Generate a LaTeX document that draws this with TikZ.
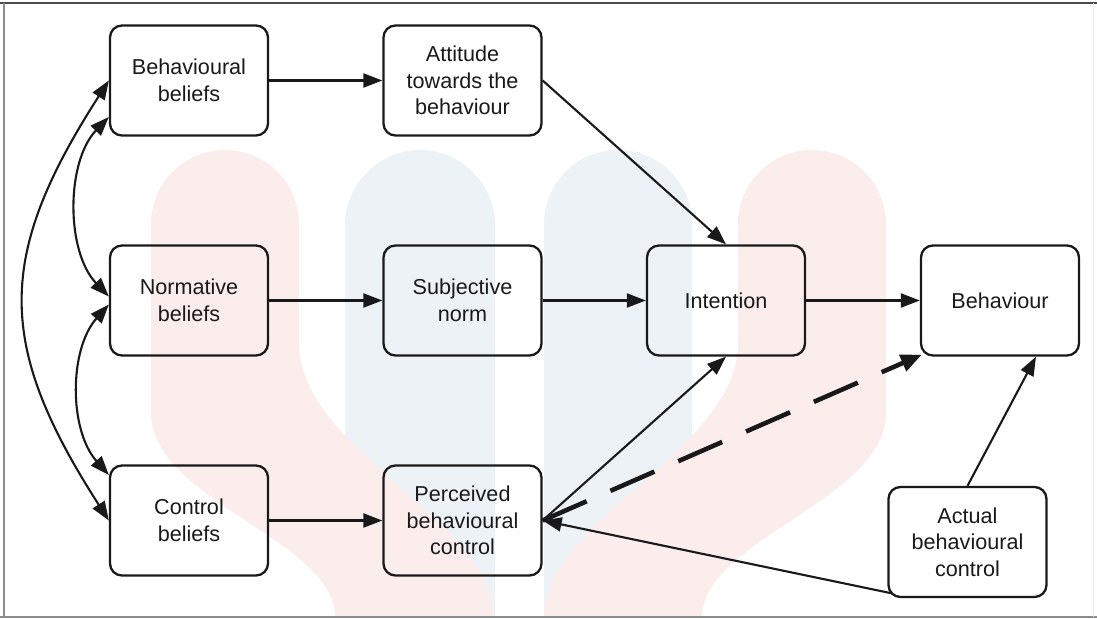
\documentclass[tikz,border=0pt]{standalone}
\usepackage{fontspec}
\setmainfont{Liberation Sans}
\usetikzlibrary{arrows.meta}
\definecolor{wpink}{RGB}{252,237,237}
\definecolor{wblue}{RGB}{237,242,247}
\definecolor{ink}{RGB}{25,25,25}
\begin{document}
\begin{tikzpicture}[x=0.5pt,y=-0.5pt,
  box/.style={draw=ink, line width=1.15pt, rounded corners=6pt, minimum width=79pt,
    minimum height=55pt, inner sep=0pt, align=center,
    font=\fontsize{10.8}{13.3}\selectfont, text=ink},
  tip/.style={-{Triangle[length=9.5pt,width=7pt]}},
  arr/.style={draw=ink, line width=1.05pt, tip},
  dbl/.style={draw=ink, line width=1.05pt, {Triangle[length=9.5pt,width=7pt]}-{Triangle[length=9.5pt,width=7pt]}},
  dashedarr/.style={draw=ink, line width=2.3pt, dash pattern=on 24pt off 13pt,
    -{Triangle[length=10.5pt,width=8.5pt]}},
  frameline/.style={line width=0.9pt}
]
\useasboundingbox (0,0) rectangle (1097,619);
% faint watermark
\fill[wblue] (345,617) -- (345,225) .. controls (345,184) and (379,150) .. (420,150)
  .. controls (461,150) and (495,184) .. (495,225) -- (495,617) -- cycle;
\fill[wblue] (544,617) -- (544,224) .. controls (544,183) and (577,150) .. (618,150)
  .. controls (659,150) and (692,183) .. (692,224) -- (692,617) -- cycle;
\fill[wpink] (151,413) -- (151,224) .. controls (151,183) and (184,150) .. (225,150)
  .. controls (266,150) and (299,183) .. (299,224) -- (299,343)
  .. controls (299,450) and (493,520) .. (493,617) -- (335,617)
  .. controls (335,540) and (151,500) .. (151,413) -- cycle;
\fill[wpink] (886,413) -- (886,224) .. controls (886,183) and (853,150) .. (812,150)
  .. controls (771,150) and (738,183) .. (738,224) -- (738,343)
  .. controls (738,450) and (544,520) .. (544,617) -- (702,617)
  .. controls (702,540) and (886,500) .. (886,413) -- cycle;
% frame
\draw[frameline, draw=black!70] (0,3) -- (1097,3);
\draw[frameline, draw=black!45] (4,3) -- (4,617);
\draw[frameline, draw=black!45] (0,617) -- (1097,617);
\draw[line width=0.5pt, draw=black!8] (1093,3) -- (1093,617);
% boxes
\node[box] (bb) at (189,80.5) {Behavioural\\beliefs};
\node[box] (att) at (462.5,80.5) {Attitude\\towards the\\behaviour};
\node[box] (nb) at (189,300.5) {Normative\\beliefs};
\node[box] (sn) at (462.5,300.5) {Subjective\\norm};
\node[box] (cb) at (189,520.5) {Control\\beliefs};
\node[box] (pbc) at (462.5,520.5) {Perceived\\behavioural\\control};
\node[box] (int) at (726,300.5) {Intention};
\node[box] (beh) at (1000,300.5) {Behaviour};
\node[box] (abc) at (967.5,542) {Actual\\behavioural\\control};
% straight connectors
\draw[arr] (bb) -- (att);
\draw[arr] (nb) -- (sn);
\draw[arr] (sn) -- (int);
\draw[arr] (int) -- (beh);
\draw[arr] (cb) -- (pbc);
\draw[arr] (att.east) -- (int.north);
\draw[arr] (pbc.east) -- (int.south);
\draw[dashedarr] (pbc.east) -- ([shift={(2,-2)}]beh.south west);
\draw[arr] (abc.north) -- ([shift={(36,0)}]beh.south);
\draw[arr] ([shift={(3.5,-5)}]abc.south west) -- (pbc.east);
% curved double-headed connectors
\draw[dbl] (bb.west) .. controls +(-113,176) and +(-113,-176) .. (cb.west);
\draw[dbl] ([shift={(0,36.5)}]bb.west) .. controls +(-43,45) and +(-43,-45) .. ([shift={(0,-4)}]nb.west);
\draw[dbl] ([shift={(0,4)}]nb.west) .. controls +(-40,45) and +(-40,-45) .. ([shift={(0,-45.5)}]cb.west);
\end{tikzpicture}
\end{document}
